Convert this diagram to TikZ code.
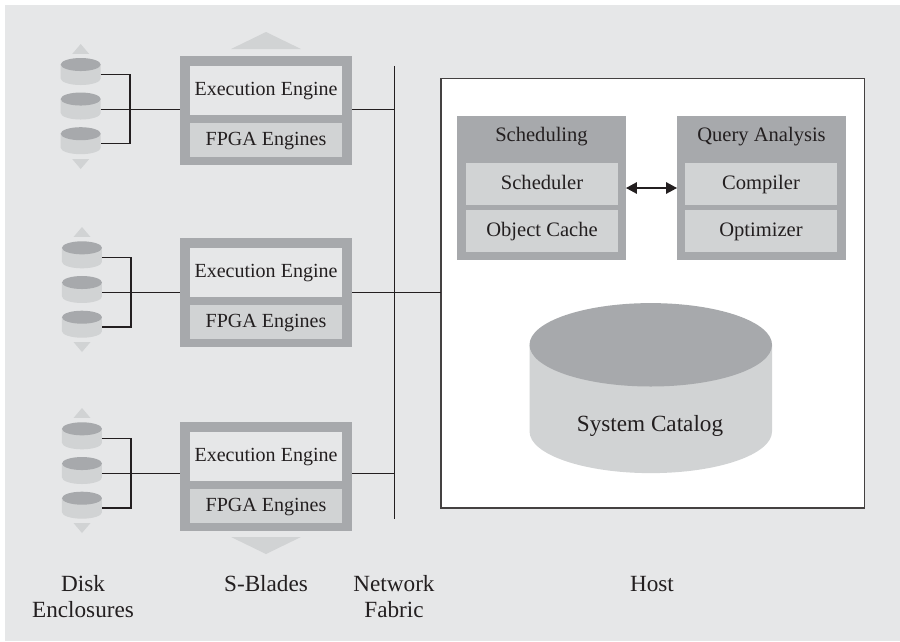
\documentclass[tikz,border=0pt]{standalone}
\usepackage{fontspec}
\usepackage{tikz}
\usepackage{xcolor}
\usetikzlibrary{arrows.meta}
\setmainfont{Liberation Serif}
\definecolor{panelgray}{HTML}{E6E7E8}
\definecolor{lightgray}{HTML}{D1D3D4}
\definecolor{darkgray}{HTML}{A7A9AC}
\definecolor{inkblack}{HTML}{231F20}
\tikzset{
  every node/.style={text=inkblack, font=\fontsize{19.5}{24.7}\selectfont, inner sep=0pt, outer sep=0pt, align=center},
  oneline/.style={text height=14pt, text depth=4pt},
  blade/.style={fill=darkgray, minimum width=5.733cm, minimum height=3.633cm},
  engine/.style={oneline, font=\fontsize{19}{24.7}\selectfont, fill=panelgray, minimum width=5.067cm, minimum height=1.633cm},
  fpga/.style={oneline, font=\fontsize{19}{24.7}\selectfont, fill=lightgray, minimum width=5.067cm, minimum height=1.133cm},
  module/.style={fill=darkgray, minimum width=5.633cm, minimum height=4.8cm},
  part/.style={oneline, fill=lightgray, minimum width=5.067cm, minimum height=1.4cm},
  biglabel/.style={font=\fontsize{22}{24.7}\selectfont},
  drum/.style 2 args={path picture={
    \fill[lightgray] ([yshift=-#2]path picture bounding box.north west) -- ([yshift=#2]path picture bounding box.south west)
      arc[start angle=180, end angle=360, x radius=#1, y radius=#2] -- ([yshift=-#2]path picture bounding box.north east) -- cycle;
    \fill[darkgray] ([yshift=-#2]path picture bounding box.north) ellipse[x radius=#1, y radius=#2];
  }},
  disk/.style={drum={0.667cm}{0.217cm}, minimum width=1.333cm, minimum height=0.9cm},
  wire/.style={inkblack, line width=1.1pt},
}
\begin{document}
\begin{tikzpicture}
  \useasboundingbox (0,0) rectangle (30,21.367);
  \fill[panelgray] (0.16,0) rectangle (30,21.2);

  % Network fabric
  \coordinate (bustop) at (13.15,19.167);
  \coordinate (busend) at (13.15,4.083);
  \draw[wire] (bustop) -- (busend);

  % Host
  \node[draw=inkblack!85, line width=1.3pt, fill=white, minimum width=14.117cm, minimum height=14.317cm] (host) at (21.758,11.592) {};
  \node[module] (sched) at (18.05,15.1) {};
  \node[oneline] (schedtitle) at (18.05,16.84) {Scheduling};
  \node[part] (scheduler) at (18.067,15.233) {Scheduler};
  \node[part] (cache) at (18.067,13.667) {Object Cache};
  \node[module] (query) at (25.383,15.1) {};
  \node[oneline] (querytitle) at (25.383,16.84) {Query Analysis};
  \node[part] (compiler) at (25.367,15.233) {Compiler};
  \node[part] (optimizer) at (25.367,13.667) {Optimizer};
  \draw[<->, >={Triangle[length=0.36cm,width=0.38cm]}, wire] (sched) -- (query);
  \node[drum={4.042cm}{1.39cm}, minimum width=8.083cm, minimum height=5.667cm] (catalog) at (21.692,8.43) {};
  \node[oneline, biglabel] (catlabel) at (21.667,7.17) {System Catalog};

  % Row 1
  \fill[lightgray] (8.867,20.3) -- ++(-1.167,-0.567) -- ++(2.333,0) -- cycle;
  \node[blade] (b1) at (8.867,17.683) {};
  \node[engine] (e1) at (8.867,18.35) {Execution Engine};
  \node[fpga] (f1) at (8.867,16.7) {FPGA Engines};
  \fill[lightgray] (2.69,19.9) -- ++(-0.283,-0.333) -- ++(0.567,0) -- cycle;
  \node[disk] (d11) at (2.69,18.983) {};
  \node[disk] (d12) at (2.69,17.833) {};
  \node[disk] (d13) at (2.69,16.677) {};
  \fill[lightgray] (2.69,15.733) -- ++(-0.283,0.333) -- ++(0.567,0) -- cycle;
  \coordinate (t1) at (4.333,17.717);
  \draw[wire] ([yshift=-2.6pt]d11.east) -| (t1) |- ([yshift=-2.6pt]d13.east);
  \draw[wire] (d12.east |- t1) -- (b1.west |- t1);
  \draw[wire] (b1.east |- t1) -- (bustop |- t1);

  % Row 2
  \node[blade] (b2) at (8.867,11.617) {};
  \node[engine] (e2) at (8.867,12.283) {Execution Engine};
  \node[fpga] (f2) at (8.867,10.633) {FPGA Engines};
  \fill[lightgray] (2.733,13.8) -- ++(-0.283,-0.333) -- ++(0.567,0) -- cycle;
  \node[disk] (d21) at (2.733,12.873) {};
  \node[disk] (d22) at (2.733,11.717) {};
  \node[disk] (d23) at (2.733,10.56) {};
  \fill[lightgray] (2.733,9.633) -- ++(-0.283,0.333) -- ++(0.567,0) -- cycle;
  \coordinate (t2) at (4.367,11.617);
  \draw[wire] ([yshift=-2.6pt]d21.east) -| (t2) |- ([yshift=-2.6pt]d23.east);
  \draw[wire] (d22.east |- t2) -- (b2.west |- t2);
  \draw[wire] (b2.east |- t2) -- (host.west |- t2);

  % Row 3
  \node[blade] (b3) at (8.867,5.483) {};
  \node[engine] (e3) at (8.867,6.15) {Execution Engine};
  \node[fpga] (f3) at (8.867,4.5) {FPGA Engines};
  \fill[lightgray] (8.867,2.9) -- ++(-1.167,0.567) -- ++(2.333,0) -- cycle;
  \fill[lightgray] (2.733,7.767) -- ++(-0.283,-0.333) -- ++(0.567,0) -- cycle;
  \node[disk] (d31) at (2.733,6.84) {};
  \node[disk] (d32) at (2.733,5.683) {};
  \node[disk] (d33) at (2.733,4.527) {};
  \fill[lightgray] (2.733,3.6) -- ++(-0.283,0.333) -- ++(0.567,0) -- cycle;
  \coordinate (t3) at (4.367,5.583);
  \draw[wire] ([yshift=-2.6pt]d31.east) -| (t3) |- ([yshift=-2.6pt]d33.east);
  \draw[wire] (d32.east |- t3) -- (b3.west |- t3);
  \draw[wire] (b3.east |- t3) -- (bustop |- t3);

  % Column labels
  \node[biglabel] (disklabel) at (2.767,1.47) {Disk\\Enclosures};
  \node[oneline, biglabel] (bladelabel) at (8.867,1.84) {S-Blades};
  \node[biglabel] (fabriclabel) at (13.133,1.47) {Network\\Fabric};
  \node[oneline, biglabel] (hostlabel) at (21.733,1.84) {Host};
\end{tikzpicture}
\end{document}
